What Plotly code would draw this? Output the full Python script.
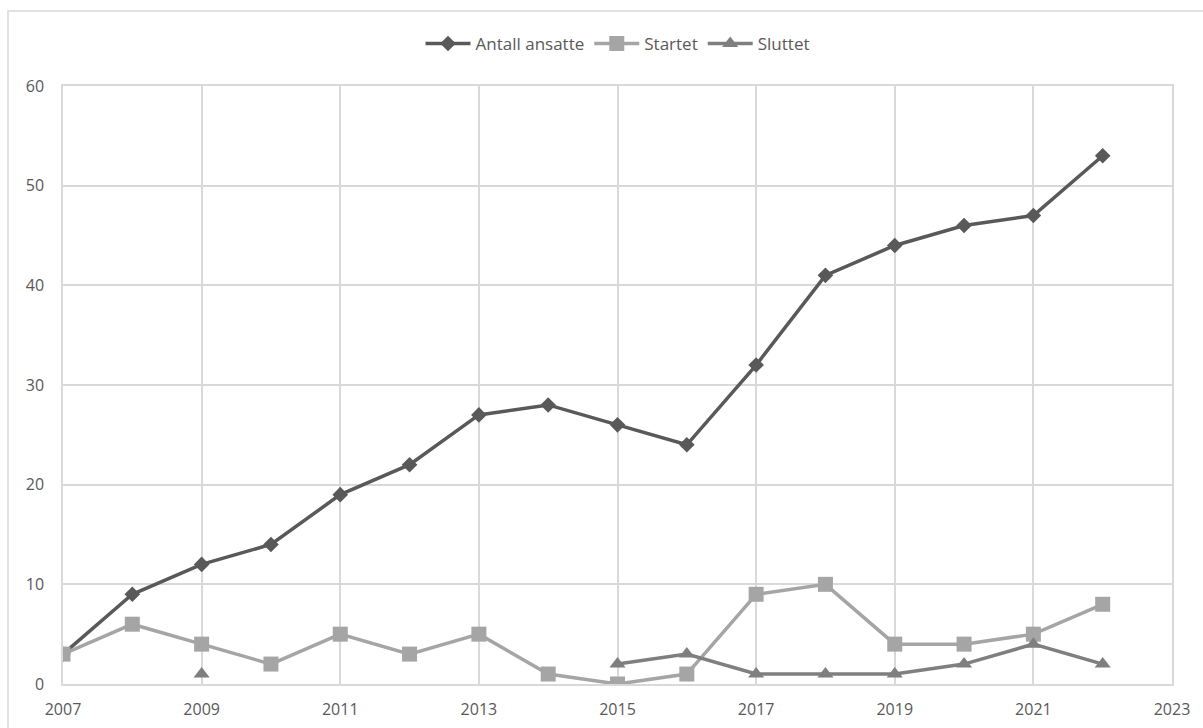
import plotly.graph_objects as go

years = list(range(2007, 2023))
antall_ansatte = [3, 9, 12, 14, 19, 22, 27, 28, 26, 24, 32, 41, 44, 46, 47, 53]
startet = [3, 6, 4, 2, 5, 3, 5, 1, 0, 1, 9, 10, 4, 4, 5, 8]
sluttet = [None, None, 1, None, None, None, None, None, 2, 3, 1, 1, 1, 2, 4, 2]
x_ticks = [2007, 2009, 2011, 2013, 2015, 2017, 2019, 2021, 2023]
y_ticks = [0, 10, 20, 30, 40, 50, 60]

fig = go.Figure()
fig.add_trace(go.Scatter(x=years, y=antall_ansatte, name="Antall ansatte", mode="lines+markers",
                         line=dict(color="#595959", width=3.5),
                         marker=dict(symbol="diamond", size=12, color="#595959")))
fig.add_trace(go.Scatter(x=years, y=startet, name="Startet", mode="lines+markers",
                         line=dict(color="#a5a5a5", width=3.5),
                         marker=dict(symbol="square", size=15, color="#a5a5a5")))
fig.add_trace(go.Scatter(x=years, y=sluttet, name="Sluttet", mode="lines+markers",
                         line=dict(color="#7f7f7f", width=3.5),
                         marker=dict(symbol="triangle-up", size=14, color="#7f7f7f")))

W, H = 1203, 728
ml, mr, mt, mb = 63, 31, 86, 44
pw, ph = W - ml - mr, H - mt - mb

def px(xp):
    return (xp - ml) / pw

def py(yp):
    return (H - mb - yp) / ph

fig.update_layout(
    width=W, height=H,
    margin=dict(l=ml, r=mr, t=mt, b=mb, autoexpand=False),
    paper_bgcolor="white", plot_bgcolor="white",
    font=dict(family="Open Sans, Liberation Sans, sans-serif", size=16, color="#595959"),
    legend=dict(orientation="h", x=0.5, xanchor="center", y=py(44), yanchor="middle",
                font=dict(size=17, color="#595959"), itemwidth=45, traceorder="normal"),
    xaxis=dict(range=[2007, 2023], tickvals=x_ticks, showgrid=True, gridcolor="#d9d9d9",
               gridwidth=1.5, showline=True, linecolor="#d9d9d9", linewidth=1.5, mirror=True,
               zeroline=False, ticks="outside", ticklen=10, tickcolor="rgba(0,0,0,0)",
               automargin=False, tickfont=dict(size=16, color="#595959")),
    yaxis=dict(range=[0, 60], tickvals=y_ticks, showgrid=True, gridcolor="#d9d9d9",
               gridwidth=1.5, showline=True, linecolor="#d9d9d9", linewidth=1.5, mirror=True,
               zeroline=False, ticks="outside", ticklen=14, tickcolor="rgba(0,0,0,0)",
               automargin=False, tickfont=dict(size=16, color="#595959")),
    shapes=[dict(type="rect", xref="paper", yref="paper",
                 x0=px(8), x1=px(1215), y0=py(740), y1=py(11),
                 line=dict(color="#d9d9d9", width=1.5), fillcolor="rgba(0,0,0,0)", layer="below")],
)
fig.write_html("out.html")
